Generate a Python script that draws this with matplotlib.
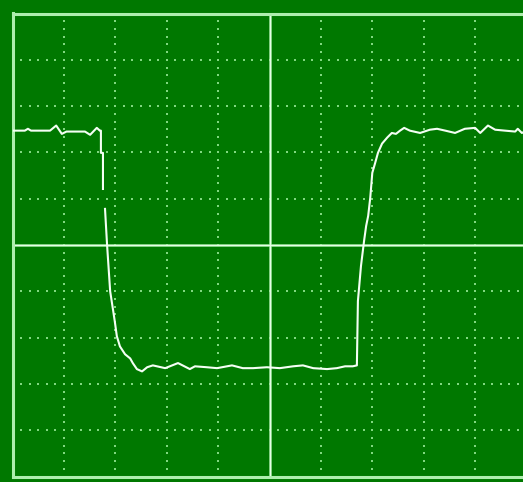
import numpy as np
import matplotlib
matplotlib.use('Agg')
import matplotlib.pyplot as plt

# trace, in divisions (x: 0..10, y: -5..5)
# NaN marks the spot where the fast falling edge fades out
trace_x = [0.00, 0.24, 0.30, 0.36, 0.73, 0.85, 0.96, 1.05, 1.41, 1.51, 1.64, 1.70,
           1.72, 1.72, 1.76, 1.76, np.nan,
           1.80, 1.84, 1.90, 1.96, 1.99, 2.03, 2.09, 2.19, 2.29, 2.34, 2.42, 2.52,
           2.62, 2.73, 2.97, 3.22, 3.45, 3.55, 3.78, 3.98, 4.27, 4.48, 4.68, 4.95,
           5.20, 5.46, 5.65, 5.85, 6.12, 6.31, 6.47, 6.62, 6.70,
           6.72, 6.78, 6.84, 6.88, 6.92, 6.96, 7.00, 7.05, 7.11, 7.19, 7.29, 7.38,
           7.46, 7.54, 7.62, 7.73, 7.93, 8.12, 8.26, 8.42, 8.61, 8.80, 9.00, 9.10,
           9.25, 9.39, 9.58, 9.78, 9.83, 9.91, 10.00]
trace_y = [2.47, 2.47, 2.51, 2.47, 2.47, 2.58, 2.40, 2.45, 2.45, 2.38, 2.53, 2.47,
           2.47, 1.99, 1.99, 1.21, np.nan,
           0.78, 0.00, -1.00, -1.43, -1.65, -1.97, -2.19, -2.36, -2.45, -2.55, -2.68, -2.73,
           -2.64, -2.60, -2.66, -2.55, -2.68, -2.62, -2.64, -2.66, -2.60, -2.66, -2.66, -2.64,
           -2.66, -2.62, -2.60, -2.66, -2.68, -2.66, -2.62, -2.62, -2.60,
           -1.21, -0.45, 0.09, 0.41, 0.63, 1.02, 1.56, 1.75, 1.99, 2.19, 2.32, 2.42,
           2.40, 2.47, 2.53, 2.47, 2.42, 2.49, 2.51, 2.47, 2.42, 2.51, 2.53, 2.42,
           2.58, 2.49, 2.47, 2.45, 2.51, 2.42, 2.47]

x_divs = np.arange(0, 11)
y_divs = np.arange(-5, 6)

screen_green = '#007800'
line_col = '#aeeeae'
core_col = '#e8ffe8'
dot_col = '#80d880'
beam_col = '#f4fff4'

W, H = 523, 482
fig = plt.figure(figsize=(W / 100, H / 100), dpi=100, facecolor=screen_green)
# screen rectangle: left edge at 12.5px, runs past the right side of the image
ax = fig.add_axes([12.5 / W, 5.5 / H, 514 / W, 463 / H])
ax.set_facecolor(screen_green)
ax.set_xlim(0, 10)
ax.set_ylim(-5, 5)
ax.set_xticks([])
ax.set_yticks([])
for s in ax.spines.values():
    s.set_color(line_col)
    s.set_linewidth(2.2)

# dotted graticule: 6 dots per division
sub_x = np.arange(0, 61) / 6
sub_y = np.arange(-30, 31) / 6
for xv in x_divs[1:-1]:
    if xv == 5:
        continue
    ax.plot(np.full(len(sub_y), xv), sub_y, ls='none', marker='s', ms=1.7,
            mew=0, color=dot_col, zorder=1)
for yv in y_divs[1:-1]:
    if yv == 0:
        continue
    ax.plot(sub_x, np.full(len(sub_x), yv), ls='none', marker='s', ms=1.7,
            mew=0, color=dot_col, zorder=1)

# solid centre axes, light green with a whiter core
ax.axvline(5, color=line_col, lw=1.8, zorder=2)
ax.axhline(0, color=line_col, lw=1.8, zorder=2)
ax.axvline(5, color=core_col, lw=0.7, zorder=2)
ax.axhline(0, color=core_col, lw=0.7, zorder=2)

ax.plot(trace_x, trace_y, color=beam_col, lw=1.5, zorder=3, solid_joinstyle='round')

fig.savefig('out.png', dpi=100, facecolor=screen_green)
